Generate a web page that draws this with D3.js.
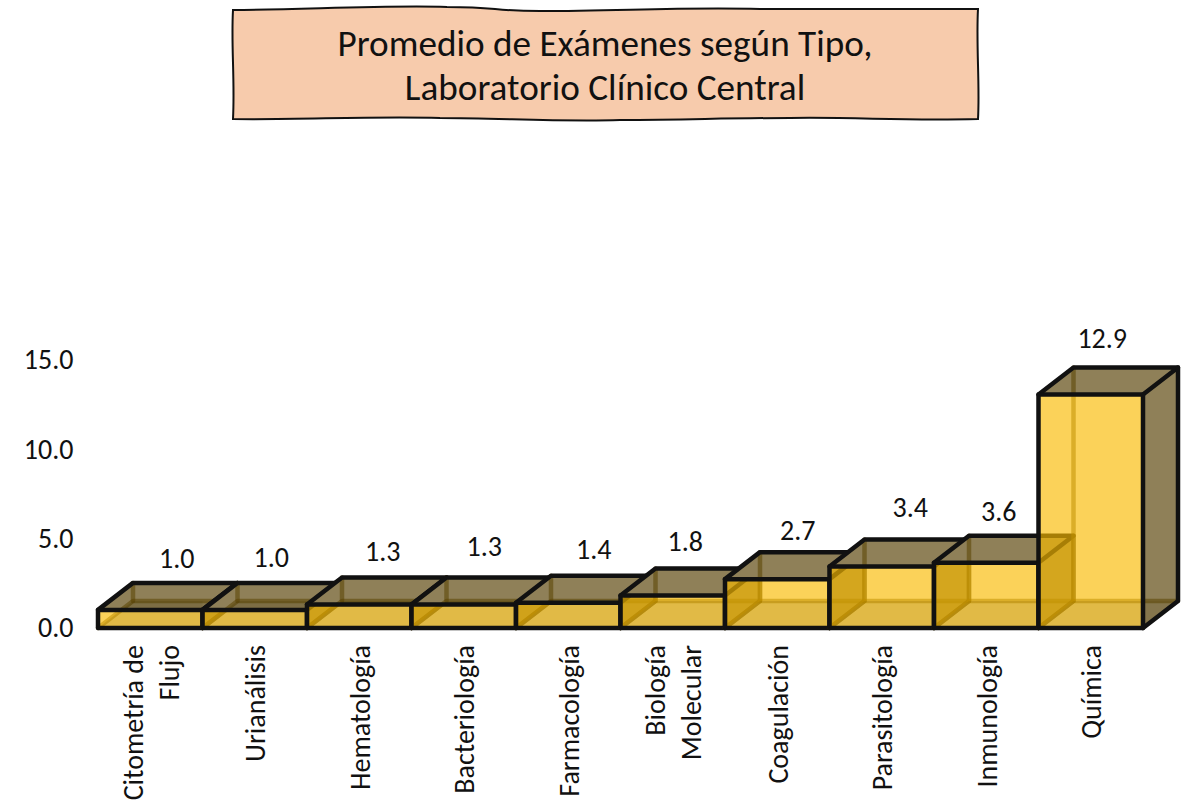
<!DOCTYPE html>
<html><head><meta charset="utf-8">
<script src="https://cdn.jsdelivr.net/npm/d3@7"></script>
<style>html,body{margin:0;padding:0;background:#fff}svg{display:block}text{font-family:Carlito,Lato,sans-serif;fill:#111}</style>
</head><body><svg id="c" width="1182" height="802"></svg>
<script>
const categories=[["Citometría de","Flujo"],["Urianálisis"],["Hematología"],["Bacteriología"],["Farmacología"],["Biología","Molecular"],["Coagulación"],["Parasitología"],["Inmunología"],["Química"]];
const values=[1.0,1.0,1.3,1.3,1.4,1.8,2.7,3.4,3.6,12.9];
const valueLabels=["1.0","1.0","1.3","1.3","1.4","1.8","2.7","3.4","3.6","12.9"];
const tickValues=[0,5,10,15];
const titleLines=["Promedio de Exámenes según Tipo,","Laboratorio Clínico Central"];
const labelNudgeX=[9,-1,6,3,8,-5,3,11,-5,-6];
const labelNudgeY=[-24,-25,-26,-31,-26,-27,-22,-32,-24,-29];

const svg=d3.select("#c");
const depthX=35, depthY=27;
const x=d3.scaleBand().domain(d3.range(values.length)).range([98,1143]);
const y=d3.scaleLinear().domain([0,15]).range([628,356.5]);
const yAxis=d3.scaleLinear().domain([0,15]).range([628,360]);

// title box
svg.append("path")
 .attr("d","M233,10 C300,10 380,5 447,7 C500,7 490,11 540,11 C620,11 680,7 760,9 C830,9 900,9 978,9 C976,45 980,85 978,119 C900,121 860,117 790,118 C720,118 690,120 620,120 C560,122 500,118 440,118 C370,116 300,120 233,119 C235,80 231,45 233,10 Z")
 .attr("fill","#f7cbac").attr("stroke","#111").attr("stroke-width",2);
svg.append("g").selectAll("text").data(titleLines).join("text")
 .attr("x",605).attr("y",(d,i)=>43+i*44).attr("text-anchor","middle").attr("dominant-baseline","central")
 .attr("font-size",37.2).text(d=>d);

// axis
const ax=svg.append("g").attr("transform","translate(73.5,0)")
 .call(d3.axisLeft(yAxis).tickValues(tickValues).tickFormat(d3.format(".1f")).tickSize(0).tickPadding(0));
ax.select(".domain").remove();
ax.selectAll("text").attr("font-size",28).attr("fill","#111").style("font-family","Carlito,Lato,sans-serif");

const poly=(g,pts,fill)=>g.append("path").attr("d",d3.line()(pts)+"Z").attr("fill",fill);
const line=(g,pts,col,w)=>g.append("path").attr("d",d3.line()(pts)).attr("fill","none").attr("stroke",col).attr("stroke-width",w).attr("stroke-linecap","round").attr("stroke-linejoin","round");
const BROWN="#8f8058", EDGE="#111", HID="rgba(90,65,0,0.55)";

values.forEach((v,i)=>{
 const g=svg.append("g");
 const x0=x(i), x1=x0+x.bandwidth(), yb=y(0), yt=y(v), dx=depthX, dy=depthY;
 poly(g,[[x1,yt],[x1+dx,yt-dy],[x1+dx,yb-dy],[x1,yb]],BROWN);
 poly(g,[[x0,yt],[x0+dx,yt-dy],[x1+dx,yt-dy],[x1,yt]],BROWN);
 poly(g,[[x0,yb],[x0+dx,yb-dy],[x1+dx,yb-dy],[x1,yb]],"rgba(60,45,0,0.13)");
 line(g,[[x0+dx,yt-dy],[x0+dx,yb-dy]],HID,4.5);
 line(g,[[x0,yb],[x0+dx,yb-dy],[x1+dx,yb-dy]],HID,4.5);
 line(g,[[x0,yt],[x0+dx,yt-dy],[x1+dx,yt-dy],[x1,yt]],EDGE,4.5);
 line(g,[[x1+dx,yt-dy],[x1+dx,yb-dy],[x1,yb]],i===values.length-1?EDGE:"rgba(17,17,17,0.6)",4.5);
 poly(g,[[x0,yt],[x1,yt],[x1,yb],[x0,yb]],"rgba(249,186,0,0.65)");
 poly(g,[[x0,yb],[x0+dx,yb-dy],[x1,yb-dy],[x1,yb]],"rgba(60,45,0,0.09)");
 g.append("rect").attr("x",x0).attr("y",yt).attr("width",x1-x0).attr("height",yb-yt)
  .attr("fill","none").attr("stroke",EDGE).attr("stroke-width",4.5).attr("stroke-linejoin","round");
});

// value labels
svg.append("g").selectAll("text").data(values).join("text")
 .attr("x",(d,i)=>x(i)+x.bandwidth()/2+depthX/2+labelNudgeX[i])
 .attr("y",(d,i)=>y(d)-depthY+labelNudgeY[i])
 .attr("text-anchor","middle").attr("dominant-baseline","central").attr("font-size",28)
 .text((d,i)=>valueLabels[i]);

// category labels
const cat=svg.append("g");
categories.forEach((lines,i)=>{
 const cx=x(i)+x.bandwidth()/2+1;
 lines.forEach((t,j)=>{
  const px=cx+(j-(lines.length-1)/2)*36;
  cat.append("text").attr("transform",`translate(${px},645) rotate(-90)`)
   .attr("text-anchor","end").attr("dominant-baseline","central").attr("font-size",28).text(t);
 });
});
</script></body></html>
